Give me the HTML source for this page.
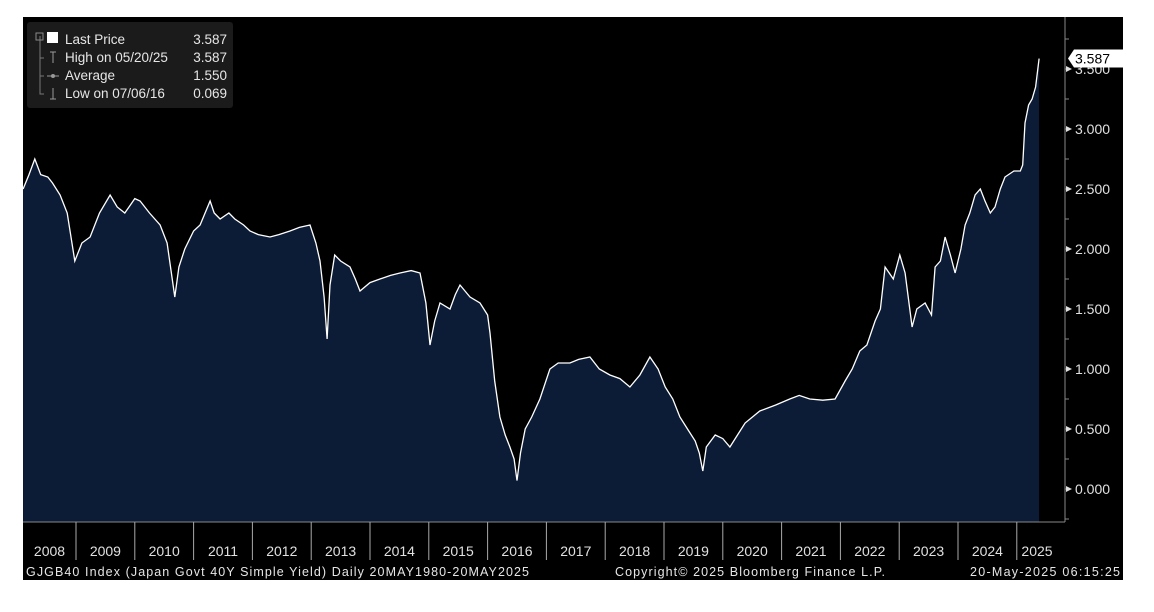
<!DOCTYPE html>
<html><head><meta charset="utf-8"><style>
html,body{margin:0;padding:0;background:#fff;width:1154px;height:612px;overflow:hidden}
svg{position:absolute;left:0;top:0;font-family:"Liberation Sans","DejaVu Sans",sans-serif}
</style></head><body>
<svg id="c" width="1154" height="612">
<rect x="23" y="17" width="1100" height="563" fill="#000"/>
<g id="plot"></g>
<g id="axes"></g>
<g>
<rect x="27" y="22" width="206" height="86" rx="3" fill="#1b1b1b"/>
<path d="M40 36 V94 H44 M40 58 H44 M40 76 H44" stroke="#777" fill="none"/>
<rect x="36" y="33" width="7" height="7" fill="none" stroke="#888"/>
<rect x="47" y="32" width="11" height="11" fill="#fff"/>
<text x="65" y="44" fill="#e6e6e6" font-size="13.5">Last Price</text><text x="227" y="44" fill="#e6e6e6" font-size="13.5" text-anchor="end">3.587</text>
<path d="M50 52 H56 M53 52 V63" stroke="#999"/>
<text x="65" y="62" fill="#e6e6e6" font-size="13.5">High on 05/20/25</text><text x="227" y="62" fill="#e6e6e6" font-size="13.5" text-anchor="end">3.587</text>
<path d="M47 76 H59" stroke="#999"/><circle cx="53" cy="76" r="2" fill="#999"/>
<text x="65" y="80" fill="#e6e6e6" font-size="13.5">Average</text><text x="227" y="80" fill="#e6e6e6" font-size="13.5" text-anchor="end">1.550</text>
<path d="M50 99 H56 M53 88 V99" stroke="#999"/>
<text x="65" y="98" fill="#e6e6e6" font-size="13.5">Low on 07/06/16</text><text x="227" y="98" fill="#e6e6e6" font-size="13.5" text-anchor="end">0.069</text>
</g>
<text x="26" y="576" fill="#e6e6e6" font-size="12.5" textLength="503" lengthAdjust="spacing">GJGB40 Index (Japan Govt 40Y Simple Yield)  Daily 20MAY1980-20MAY2025</text>
<text x="615" y="576" fill="#e6e6e6" font-size="12.5" textLength="270" lengthAdjust="spacing">Copyright© 2025 Bloomberg Finance L.P.</text>
<text x="970" y="576" fill="#e6e6e6" font-size="12.5" textLength="150" lengthAdjust="spacing">20-May-2025 06:15:25</text>
</svg>
<script>
const dates=[2008.10,2008.2,2008.30,2008.4,2008.52,2008.6,2008.73,2008.85,2008.98,2009.1,2009.24,2009.4,2009.58,2009.7,2009.83,2010.0,2010.09,2010.25,2010.43,2010.55,2010.68,2010.75,2010.85,2011.0,2011.11,2011.28,2011.35,2011.45,2011.6,2011.70,2011.85,2011.96,2012.1,2012.30,2012.45,2012.64,2012.8,2012.98,2013.08,2013.15,2013.22,2013.27,2013.32,2013.40,2013.5,2013.66,2013.75,2013.83,2014.0,2014.17,2014.35,2014.51,2014.7,2014.85,2014.95,2015.02,2015.1,2015.19,2015.36,2015.45,2015.53,2015.7,2015.87,2016.0,2016.04,2016.12,2016.21,2016.3,2016.38,2016.45,2016.50,2016.56,2016.64,2016.75,2016.89,2017.06,2017.2,2017.40,2017.55,2017.74,2017.9,2018.08,2018.25,2018.42,2018.59,2018.76,2018.9,2019.02,2019.15,2019.27,2019.4,2019.53,2019.6,2019.66,2019.72,2019.87,2020.0,2020.12,2020.25,2020.38,2020.63,2020.9,2021.14,2021.3,2021.48,2021.7,2021.91,2022.08,2022.2,2022.33,2022.45,2022.59,2022.68,2022.76,2022.9,2023.01,2023.1,2023.22,2023.3,2023.44,2023.55,2023.61,2023.7,2023.78,2023.87,2023.95,2024.05,2024.12,2024.2,2024.29,2024.38,2024.46,2024.55,2024.63,2024.72,2024.80,2024.95,2025.06,2025.1,2025.14,2025.2,2025.26,2025.32,2025.38];
const yields=[2.5,2.62,2.75,2.62,2.6,2.55,2.45,2.3,1.9,2.05,2.1,2.3,2.45,2.35,2.3,2.42,2.4,2.3,2.2,2.05,1.6,1.85,2.0,2.15,2.2,2.4,2.3,2.25,2.3,2.25,2.2,2.15,2.12,2.1,2.12,2.15,2.18,2.2,2.05,1.9,1.6,1.25,1.7,1.95,1.9,1.85,1.75,1.65,1.72,1.75,1.78,1.8,1.82,1.8,1.55,1.2,1.4,1.55,1.5,1.62,1.7,1.6,1.55,1.45,1.3,0.9,0.6,0.45,0.35,0.25,0.07,0.3,0.5,0.6,0.75,1.0,1.05,1.05,1.08,1.1,1.0,0.95,0.92,0.85,0.95,1.1,1.0,0.85,0.75,0.6,0.5,0.4,0.3,0.15,0.35,0.45,0.42,0.35,0.45,0.55,0.65,0.7,0.75,0.78,0.75,0.74,0.75,0.9,1.0,1.15,1.2,1.4,1.5,1.85,1.75,1.95,1.8,1.35,1.5,1.55,1.45,1.85,1.9,2.1,1.95,1.8,2.0,2.2,2.3,2.45,2.5,2.4,2.3,2.35,2.5,2.6,2.65,2.65,2.7,3.05,3.2,3.25,3.35,3.587];
const yTicks=[0,0.5,1,1.5,2,2.5,3,3.5];
const yearLabels=[2008,2009,2010,2011,2012,2013,2014,2015,2016,2017,2018,2019,2020,2021,2022,2023,2024,2025];
const X=d=>76+(d-2009)*58.8;
const Y=v=>489-v*120;
const NS="http://www.w3.org/2000/svg";
function mk(tag,attrs,parent){const e=document.createElementNS(NS,tag);for(const k in attrs)e.setAttribute(k,attrs[k]);parent.appendChild(e);return e;}
const plot=document.getElementById('plot'),axes=document.getElementById('axes');
let line=dates.map((d,i)=>(i?'L':'M')+X(d).toFixed(1)+' '+Y(yields[i]).toFixed(1)).join(' ');
const area=mk('path',{d:line+` L${X(dates[dates.length-1]).toFixed(1)} 522 L${X(dates[0]).toFixed(1)} 522 Z`,fill:'#0c1c36'},plot);


const ln=mk('path',{d:line,fill:'none',stroke:'#fff','stroke-width':1.3},plot);


mk('line',{x1:23,x2:1065,y1:522,y2:522,stroke:'#888'},axes);
mk('line',{x1:1065,x2:1065,y1:17,y2:522,stroke:'#888'},axes);
for(let v=-0.25;v<=3.76;v+=0.25){mk('line',{x1:1065,x2:1069,y1:Y(v),y2:Y(v),stroke:'#888'},axes);}
yTicks.forEach(v=>{
 const y=Y(v);
 mk('path',{d:`M1066 ${y-3} L1072 ${y} L1066 ${y+3}Z`,fill:'#ddd'},axes);
 const t=mk('text',{x:1075,y:y+5,fill:'#e0e0e0','font-size':14},axes);
 t.textContent=v.toFixed(3);
 
 
});
yearLabels.forEach(yr=>{
 const x0=Math.max(23,X(yr)),x1=Math.min(1065,X(yr+1));
 if(yr>2008) mk('line',{x1:X(yr),x2:X(yr),y1:522,y2:560,stroke:'#aaa'},axes);
 const t=mk('text',{x:yr===2025?1037:(x0+x1)/2,y:556,fill:'#e0e0e0','font-size':14,'text-anchor':'middle'},axes);
 t.textContent=yr;
 
 
});
const yl=Y(yields[yields.length-1]);
const tag=mk('g',{},axes);


mk('path',{d:`M1068 ${yl} L1074 ${yl-9} H1123 V${yl+9} H1074 Z`,fill:'#fff'},tag);
const tt=mk('text',{x:1075,y:yl+5,fill:'#000','font-size':14},tag);
tt.textContent=yields[yields.length-1].toFixed(3);
</script>
</body></html>
